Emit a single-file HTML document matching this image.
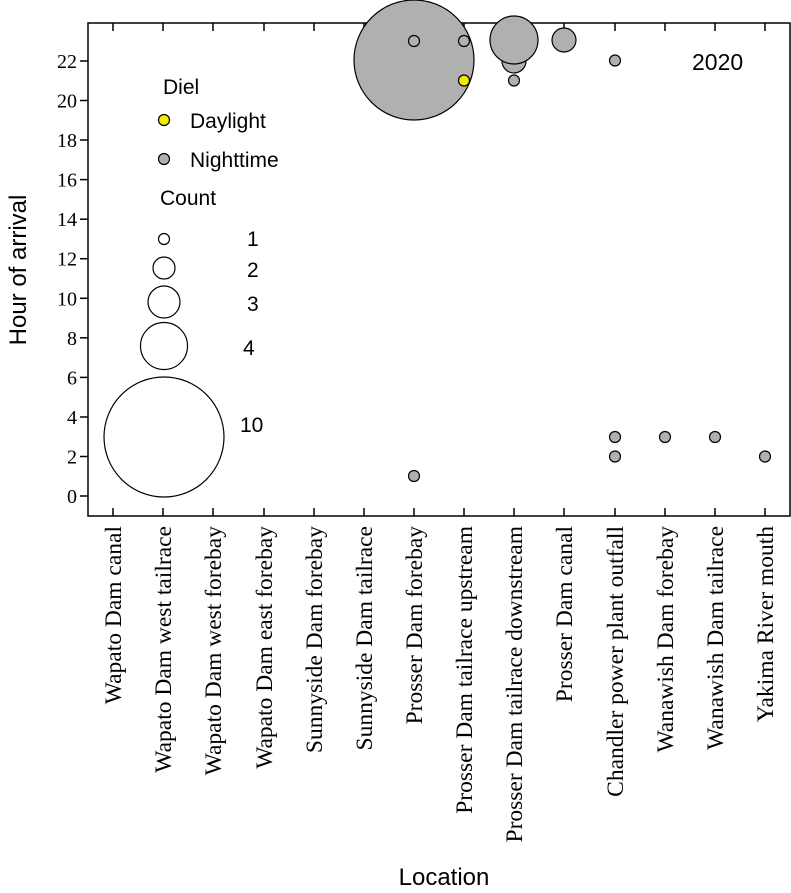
<!DOCTYPE html>
<html><head><style>body{margin:0;background:#fff}svg{display:block}</style></head><body>
<svg width="791" height="893" viewBox="0 0 791 893" xmlns="http://www.w3.org/2000/svg">
<rect width="791" height="893" fill="#fff"/>
<g fill="none" stroke="#000" stroke-width="1.5">
<rect x="88" y="23" width="702" height="493"/>
</g>
<g stroke="#000" stroke-width="1.5">
<line x1="80" y1="496" x2="88" y2="496"/><line x1="80" y1="456.5" x2="88" y2="456.5"/>
<line x1="80" y1="417" x2="88" y2="417"/><line x1="80" y1="377.4" x2="88" y2="377.4"/>
<line x1="80" y1="337.8" x2="88" y2="337.8"/><line x1="80" y1="298.3" x2="88" y2="298.3"/>
<line x1="80" y1="258.7" x2="88" y2="258.7"/><line x1="80" y1="219.2" x2="88" y2="219.2"/>
<line x1="80" y1="179.6" x2="88" y2="179.6"/><line x1="80" y1="140" x2="88" y2="140"/>
<line x1="80" y1="100.5" x2="88" y2="100.5"/><line x1="80" y1="61" x2="88" y2="61"/>
</g>
<g stroke="#000" stroke-width="1.5">
<path d="M113 516v-8M163 516v-8M213 516v-8M264 516v-8M314 516v-8M364 516v-8M414 516v-8M464 516v-8M514 516v-8M564 516v-8M615 516v-8M665 516v-8M715 516v-8M765 516v-8"/>
<path d="M113 23v8M163 23v8M213 23v8M264 23v8M314 23v8M364 23v8M414 23v8M464 23v8M514 23v8M564 23v8M615 23v8M665 23v8M715 23v8M765 23v8"/>
</g>
<g font-family="Liberation Serif, serif" font-size="20" text-anchor="end">
<text x="77" y="503">0</text><text x="77" y="463.5">2</text><text x="77" y="424">4</text>
<text x="77" y="384.4">6</text><text x="77" y="344.8">8</text><text x="77" y="305.3">10</text>
<text x="77" y="265.7">12</text><text x="77" y="226.2">14</text><text x="77" y="186.6">16</text>
<text x="77" y="147">18</text><text x="77" y="107.5">20</text><text x="77" y="68">22</text>
</g>
<g font-family="Liberation Serif, serif" font-size="23.5" text-anchor="end">
<text transform="translate(121,526) rotate(-90)">Wapato Dam canal</text>
<text transform="translate(171,526) rotate(-90)">Wapato Dam west tailrace</text>
<text transform="translate(221,526) rotate(-90)">Wapato Dam west forebay</text>
<text transform="translate(272,526) rotate(-90)">Wapato Dam east forebay</text>
<text transform="translate(322,526) rotate(-90)">Sunnyside Dam forebay</text>
<text transform="translate(372,526) rotate(-90)">Sunnyside Dam tailrace</text>
<text transform="translate(422,526) rotate(-90)">Prosser Dam forebay</text>
<text transform="translate(472,526) rotate(-90)">Prosser Dam tailrace upstream</text>
<text transform="translate(522,526) rotate(-90)">Prosser Dam tailrace downstream</text>
<text transform="translate(572,526) rotate(-90)">Prosser Dam canal</text>
<text transform="translate(623,526) rotate(-90)">Chandler power plant outfall</text>
<text transform="translate(673,526) rotate(-90)">Wanawish Dam forebay</text>
<text transform="translate(723,526) rotate(-90)">Wanawish Dam tailrace</text>
<text transform="translate(773,526) rotate(-90)">Yakima River mouth</text>
</g>
<g font-family="Liberation Sans, sans-serif" font-size="24">
<text x="444" y="885" text-anchor="middle">Location</text>
<text transform="translate(26,270) rotate(-90)" text-anchor="middle">Hour of arrival</text>
<text x="692" y="70" font-size="23">2020</text>
</g>
<g stroke="#000" stroke-width="1.2" fill="#b0b0b0">
<circle cx="414" cy="60" r="60"/>
<circle cx="414" cy="41" r="5.5"/>
<circle cx="464" cy="41" r="5.5"/>
<circle cx="464" cy="80.5" r="5.5" fill="#f2ec00"/>
<circle cx="514" cy="61" r="12"/>
<circle cx="514" cy="40" r="24"/>
<circle cx="514" cy="80.5" r="5.5"/>
<circle cx="564" cy="40" r="12"/>
<circle cx="615" cy="60.5" r="5.5"/>
<circle cx="414" cy="476" r="5.5"/>
<circle cx="615" cy="437" r="5.5"/>
<circle cx="615" cy="456.5" r="5.5"/>
<circle cx="665" cy="437" r="5.5"/>
<circle cx="715" cy="437" r="5.5"/>
<circle cx="765" cy="456.5" r="5.5"/>
</g>
<g font-family="Liberation Sans, sans-serif" font-size="21">
<text x="163" y="94">Diel</text>
<text x="190" y="128">Daylight</text>
<text x="190" y="167">Nighttime</text>
<text x="160" y="205">Count</text>
<text x="247" y="246">1</text>
<text x="247" y="277">2</text>
<text x="247" y="311">3</text>
<text x="243" y="355">4</text>
<text x="240" y="432">10</text>
</g>
<g stroke="#000" stroke-width="1.2">
<circle cx="164" cy="120" r="5.5" fill="#f2ec00"/>
<circle cx="164" cy="159" r="5.5" fill="#b0b0b0"/>
<g fill="#fff">
<circle cx="164" cy="239" r="5.5"/>
<circle cx="164" cy="268" r="11"/>
<circle cx="164" cy="302" r="16"/>
<circle cx="164" cy="346" r="23.5"/>
<circle cx="164" cy="437" r="60"/>
</g>
</g>
</svg>
</body></html>
